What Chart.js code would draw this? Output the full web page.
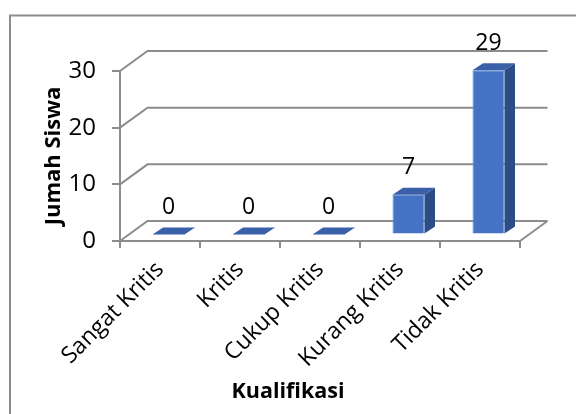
<!DOCTYPE html>
<html>
<head>
<meta charset="utf-8">
<script src="https://cdn.jsdelivr.net/npm/chart.js@4/dist/chart.umd.min.js"></script>
<style>
  html, body { margin: 0; padding: 0; background: #ffffff; }
  #wrap { width: 576px; height: 414px; position: relative; }
</style>
</head>
<body>
<div id="wrap"><canvas id="c" width="576" height="414"></canvas></div>
<script>
// ---- data ----
const categories = ['Sangat Kritis', 'Kritis', 'Cukup Kritis', 'Kurang Kritis', 'Tidak Kritis'];
const jumlahSiswa = [0, 0, 0, 7, 29];
const yTickValues = [0, 10, 20, 30];
const xTitle = 'Kualifikasi';
const yTitle = 'Jumah Siswa';

// ---- style ----
const FONT = '"Open Sans", "Liberation Sans", sans-serif';
const GRID = '#8c8c8c';
const FRONT = '#4472C4';
const TOP = '#3A60A8';
const SIDE = '#2C4C88';
const WALL_DX = 27.5, WALL_DY = -20;   // depth of the 3D wall/floor
const BAR_DX = 8.5, BAR_DY = -6.5;     // depth position of bar front face
const BAR_DEPTH_X = 10.5, BAR_DEPTH_Y = -7;

const threeD = {
  id: 'threeD',
  beforeDraw(chart) {
    const ctx = chart.ctx;
    const ca = chart.chartArea;
    const y = chart.scales.y;
    ctx.save();
    // outer frame
    ctx.strokeStyle = GRID;
    ctx.lineWidth = 2;
    ctx.strokeRect(10, 15.5, 700, 500);
    // walls & floor
    ctx.beginPath();
    yTickValues.forEach(v => {
      const py = y.getPixelForValue(v);
      ctx.moveTo(ca.left, py);
      ctx.lineTo(ca.left + WALL_DX, py + WALL_DY);
      ctx.lineTo(ca.right + WALL_DX, py + WALL_DY);
    });
    ctx.moveTo(ca.right, ca.bottom);
    ctx.lineTo(ca.right + WALL_DX, ca.bottom + WALL_DY);
    ctx.stroke();
    ctx.restore();
  },
  beforeDatasetsDraw(chart) {
    const ctx = chart.ctx;
    ctx.save();
    ctx.translate(BAR_DX, BAR_DY);
    const meta = chart.getDatasetMeta(0);
    meta.data.forEach(el => {
      const w = el.width;
      const l = el.x - w / 2, r = el.x + w / 2;
      const t = el.y, b = el.base;
      // top face
      ctx.fillStyle = TOP;
      ctx.beginPath();
      ctx.moveTo(l, t);
      ctx.lineTo(l + BAR_DEPTH_X, t + BAR_DEPTH_Y);
      ctx.lineTo(r + BAR_DEPTH_X, t + BAR_DEPTH_Y);
      ctx.lineTo(r, t);
      ctx.closePath();
      ctx.fill();
      // side face
      if (b - t > 0.5) {
        ctx.fillStyle = SIDE;
        ctx.beginPath();
        ctx.moveTo(r, t);
        ctx.lineTo(r + BAR_DEPTH_X, t + BAR_DEPTH_Y);
        ctx.lineTo(r + BAR_DEPTH_X, b + BAR_DEPTH_Y);
        ctx.lineTo(r, b);
        ctx.closePath();
        ctx.fill();
      }
    });
  },
  afterDatasetsDraw(chart) {
    const ctx = chart.ctx;
    const meta = chart.getDatasetMeta(0);
    ctx.fillStyle = '#000000';
    ctx.font = '23px ' + FONT;
    ctx.textAlign = 'center';
    ctx.textBaseline = 'middle';
    meta.data.forEach((el, i) => {
      ctx.fillText(String(jumlahSiswa[i]), el.x, el.y - 27);
    });
    ctx.restore();
  }
};

new Chart(document.getElementById('c'), {
  type: 'bar',
  data: {
    labels: categories,
    datasets: [{
      data: jumlahSiswa,
      backgroundColor: FRONT,
      borderColor: '#5a86d2',
      borderWidth: 1,
      categoryPercentage: 1,
      barPercentage: 0.4,
      clip: false
    }]
  },
  options: {
    responsive: false,
    animation: false,
    events: [],
    layout: { padding: { left: 0, top: 71, right: 0, bottom: 0 } },
    plugins: {
      legend: { display: false },
      tooltip: { enabled: false },
      title: {
        display: true,
        position: 'bottom',
        text: xTitle,
        color: '#000000',
        font: { family: FONT, size: 21.5, weight: 'bold', lineHeight: 1.2 },
        padding: { top: 0, bottom: 9 }
      }
    },
    scales: {
      x: {
        offset: true,
        grid: { offset: true, drawOnChartArea: false, drawTicks: true, tickLength: 7, color: GRID, lineWidth: 2 },
        border: { display: true, color: GRID, width: 2 },
        ticks: {
          color: '#000000',
          font: { family: FONT, size: 23 },
          minRotation: 45, maxRotation: 45,
          autoSkip: false,
          padding: 8
        },
        afterFit(s) { s.height = 138.2; }
      },
      y: {
        min: 0, max: 30,
        afterBuildTicks(s) { s.ticks = yTickValues.map(v => ({ value: v })); },
        grid: { drawOnChartArea: false, drawTicks: true, tickLength: 8, color: GRID, lineWidth: 2 },
        border: { display: true, color: GRID, width: 2 },
        ticks: {
          color: '#000000',
          font: { family: FONT, size: 24 },
          padding: 16
        },
        title: {
          display: true,
          text: yTitle,
          color: '#000000',
          font: { family: FONT, size: 22, weight: 'bold', lineHeight: 1.2 },
          padding: { top: 41, bottom: 0 }
        },
        afterFit(s) { s.width = 120; }
      },
      yRight: {
        position: 'right',
        display: true,
        grid: { display: false },
        border: { display: false },
        ticks: { display: false },
        afterFit(s) { s.width = 56; }
      }
    }
  },
  plugins: [threeD]
});
</script>
</body>
</html>
